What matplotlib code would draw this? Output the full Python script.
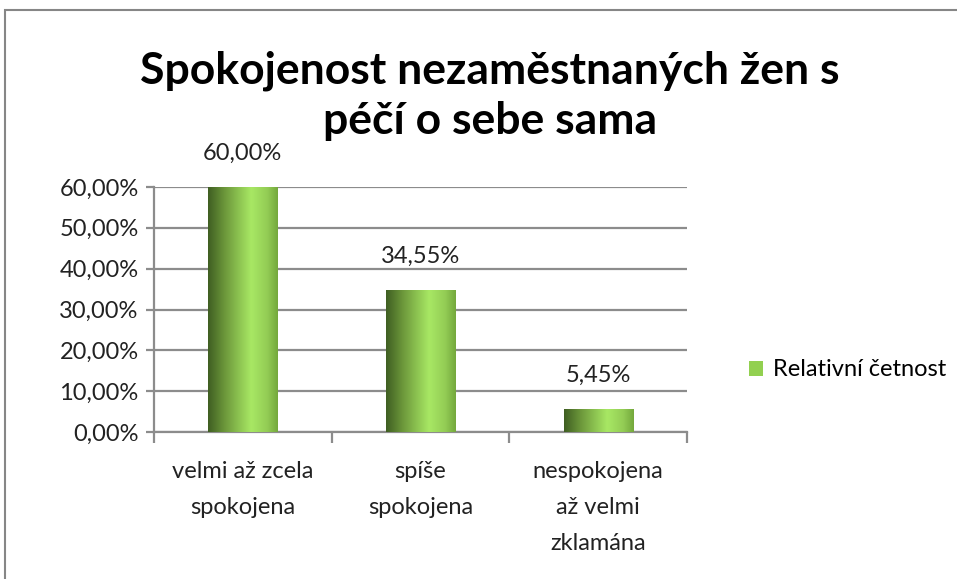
import matplotlib
matplotlib.use("Agg")
import matplotlib.pyplot as plt
import numpy as np
from matplotlib.colors import LinearSegmentedColormap
from matplotlib.patches import Rectangle

categories = ["velmi až zcela\nspokojena", "spíše\nspokojena", "nespokojena\naž velmi\nzklamána"]
values = [60.00, 34.55, 5.45]
value_labels = ["60,00%", "34,55%", "5,45%"]
yticks = [0, 10, 20, 30, 40, 50, 60]
ytick_labels = ["0,00%", "10,00%", "20,00%", "30,00%", "40,00%", "50,00%", "60,00%"]
series_name = "Relativní četnost"
title = "Spokojenost nezaměstnaných žen s\npéčí o sebe sama"

plt.rcParams['font.family'] = ['Lato', 'DejaVu Sans']
FS = 17

W, H = 957, 579
fig = plt.figure(figsize=(W / 100, H / 100), dpi=100)
fig.patch.set_facecolor("white")

# outer border of chart area
fig.add_artist(Rectangle((5 / W, -0.05), 1.2, 1 - 10 / H + 0.05, transform=fig.transFigure,
                         fill=False, edgecolor="#868686", linewidth=1.5))

ax = fig.add_axes([154 / W, 1 - 432 / H, (687 - 154) / W, (432 - 187) / H])
ax.set_xlim(0, 3)
ax.set_ylim(0, 60)

cmap = LinearSegmentedColormap.from_list("g", [(0.0, "#3f5e22"), (0.25, "#6e9a3c"),
                                              (0.62, "#a8e864"), (0.85, "#93cc55"), (1.0, "#74a83c")])
grad = np.linspace(0, 1, 256).reshape(1, -1)
bw = 0.39
x = np.arange(len(values)) + 0.5
bars = ax.bar(x, values, width=bw, color="#92d050", zorder=3)
for b in bars:
    x0, y0, w, h = b.get_x(), b.get_y(), b.get_width(), b.get_height()
    ax.imshow(grad, cmap=cmap, aspect="auto", extent=(x0, x0 + w, y0, y0 + h), zorder=3.5,
              interpolation="bicubic")
ax.set_xlim(0, 3)
ax.set_ylim(0, 60)

for xi, v, lab in zip(x, values, value_labels):
    ax.annotate(lab, (xi, v), xytext=(0, 17), textcoords="offset points", ha="center",
                va="bottom", fontsize=FS, color="#222222")

ax.set_yticks(yticks)
ax.set_yticklabels(ytick_labels, fontsize=FS, color="#222222")
ax.yaxis.grid(True, color="#8c8c8c", linewidth=1.6, zorder=0)
ax.set_axisbelow(True)
ax.set_xticks([0, 1, 2, 3])
ax.set_xticklabels([])
ax.set_xticks(x, minor=True)
ax.set_xticklabels(categories, minor=True, fontsize=FS, color="#222222", linespacing=1.87)
ax.tick_params(axis="x", which="minor", length=0, pad=21)
ax.tick_params(axis="x", which="major", length=8, width=1.6, color="#8c8c8c", direction="out")
ax.tick_params(axis="y", length=6, width=1.6, color="#8c8c8c", pad=5)
for s in ["top", "right"]:
    ax.spines[s].set_visible(False)
for s in ["left", "bottom"]:
    ax.spines[s].set_color("#8c8c8c")
    ax.spines[s].set_linewidth(1.6)

fig.text(490 / W, 1 - 96 / H, title, ha="center", va="center", fontsize=32, fontweight="bold",
         color="black", linespacing=1.3)

handle = Rectangle((0, 0), 1, 1, facecolor="#92d050")
fig.legend([handle], [series_name], loc="center left", bbox_to_anchor=(728 / W, 1 - 370 / H),
           frameon=False, fontsize=FS, handlelength=0.6, handleheight=0.6, handletextpad=0.4)

fig.savefig("out.png", dpi=100)
